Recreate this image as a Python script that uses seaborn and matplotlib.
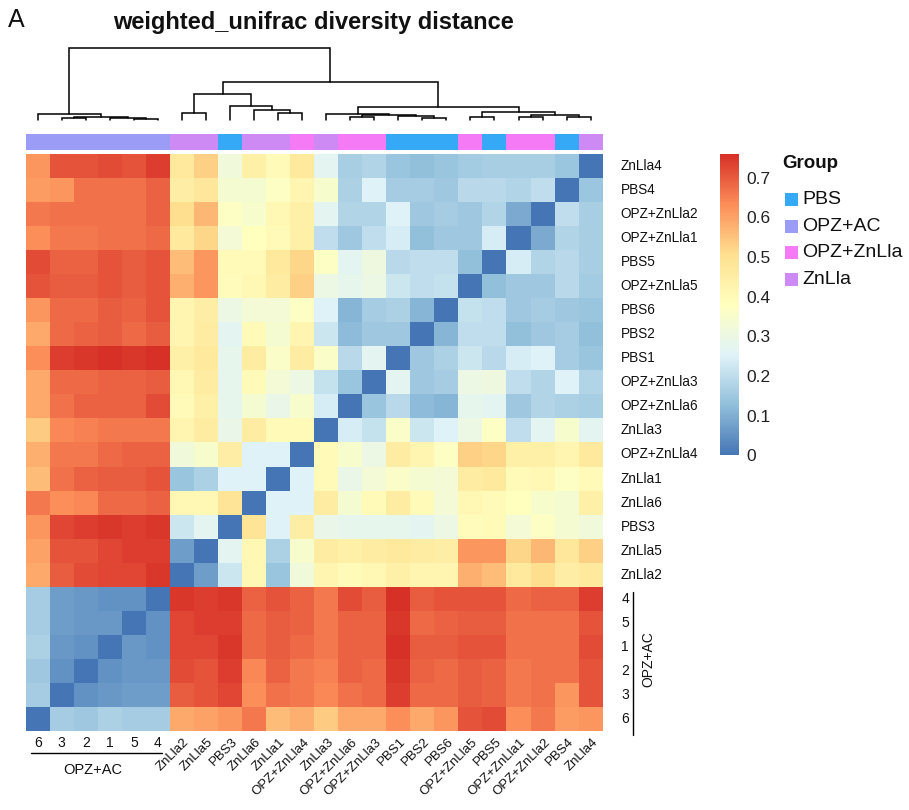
import numpy as np
import pandas as pd
import matplotlib
matplotlib.use("Agg")
import matplotlib.pyplot as plt
import seaborn as sns
from matplotlib.colors import LinearSegmentedColormap, ListedColormap
from matplotlib.patches import Rectangle
from matplotlib.lines import Line2D

sns.set_theme(style="white")
plt.rcParams["font.family"] = ["Liberation Sans", "DejaVu Sans"]

# ---------------- data ----------------
samples = ["6", "3", "2", "1", "5", "4", "ZnLla2", "ZnLla5", "PBS3", "ZnLla6", "ZnLla1",
           "OPZ+ZnLla4", "ZnLla3", "OPZ+ZnLla6", "OPZ+ZnLla3", "PBS1", "PBS2", "PBS6",
           "OPZ+ZnLla5", "PBS5", "OPZ+ZnLla1", "OPZ+ZnLla2", "PBS4", "ZnLla4"]
groups = ["OPZ+AC"] * 6 + ["ZnLla", "ZnLla", "PBS", "ZnLla", "ZnLla", "OPZ+ZnLla", "ZnLla",
                          "OPZ+ZnLla", "OPZ+ZnLla", "PBS", "PBS", "PBS", "OPZ+ZnLla", "PBS",
                          "OPZ+ZnLla", "OPZ+ZnLla", "PBS", "ZnLla"]
group_names = ["PBS", "OPZ+AC", "OPZ+ZnLla", "ZnLla"]
group_colors = ["#35A9F6", "#9B9CF6", "#F47BF5", "#CD8AF4"]

# lower triangle of the distance matrix: distances of sample k to samples 0..k-1
dist_1 = [0.16]
dist_2 = [0.15, 0.05]
dist_3 = [0.17, 0.06, 0.05]
dist_4 = [0.16, 0.07, 0.06, 0.06]
dist_5 = [0.16, 0.07, 0.06, 0.05, 0.05]
dist_6 = [0.59, 0.70, 0.72, 0.73, 0.73, 0.75]
dist_7 = [0.60, 0.71, 0.71, 0.73, 0.74, 0.74, 0.07]
dist_8 = [0.62, 0.73, 0.74, 0.75, 0.74, 0.75, 0.22, 0.27]
dist_9 = [0.66, 0.63, 0.64, 0.68, 0.68, 0.69, 0.41, 0.41, 0.49]
dist_10 = [0.56, 0.67, 0.69, 0.70, 0.70, 0.71, 0.14, 0.17, 0.25, 0.25]
dist_11 = [0.58, 0.66, 0.66, 0.68, 0.69, 0.69, 0.32, 0.35, 0.45, 0.25, 0.25]
dist_12 = [0.54, 0.64, 0.65, 0.66, 0.66, 0.66, 0.42, 0.46, 0.29, 0.46, 0.40, 0.40]
dist_13 = [0.59, 0.67, 0.69, 0.69, 0.69, 0.72, 0.40, 0.44, 0.28, 0.34, 0.29, 0.35, 0.24]
dist_14 = [0.59, 0.68, 0.68, 0.69, 0.69, 0.70, 0.41, 0.46, 0.28, 0.40, 0.33, 0.30, 0.21, 0.14]
dist_15 = [0.63, 0.74, 0.75, 0.76, 0.75, 0.76, 0.44, 0.47, 0.28, 0.46, 0.36, 0.46, 0.36, 0.19,
           0.27]
dist_16 = [0.59, 0.68, 0.69, 0.70, 0.68, 0.70, 0.42, 0.46, 0.27, 0.40, 0.34, 0.42, 0.22, 0.12,
           0.15, 0.15]
dist_17 = [0.62, 0.68, 0.68, 0.70, 0.69, 0.71, 0.42, 0.45, 0.30, 0.33, 0.33, 0.37, 0.25, 0.11,
           0.16, 0.17, 0.11]
dist_18 = [0.71, 0.70, 0.70, 0.71, 0.70, 0.71, 0.58, 0.62, 0.39, 0.41, 0.46, 0.53, 0.30, 0.28,
           0.30, 0.22, 0.20, 0.21]
dist_19 = [0.72, 0.69, 0.69, 0.71, 0.70, 0.71, 0.56, 0.62, 0.40, 0.40, 0.47, 0.52, 0.37, 0.27,
           0.31, 0.19, 0.20, 0.20, 0.13]
dist_20 = [0.63, 0.66, 0.66, 0.67, 0.67, 0.68, 0.47, 0.52, 0.33, 0.38, 0.40, 0.44, 0.20, 0.15,
           0.20, 0.24, 0.13, 0.15, 0.15, 0.24]
dist_21 = [0.66, 0.67, 0.67, 0.67, 0.67, 0.69, 0.51, 0.57, 0.37, 0.35, 0.41, 0.44, 0.27, 0.18,
           0.18, 0.25, 0.15, 0.16, 0.15, 0.18, 0.09]
dist_22 = [0.61, 0.62, 0.67, 0.67, 0.67, 0.69, 0.45, 0.48, 0.34, 0.34, 0.37, 0.42, 0.35, 0.17,
           0.25, 0.16, 0.16, 0.15, 0.19, 0.19, 0.18, 0.20]
dist_23 = [0.62, 0.71, 0.71, 0.72, 0.71, 0.74, 0.47, 0.53, 0.32, 0.44, 0.40, 0.47, 0.27, 0.165,
           0.18, 0.14, 0.13, 0.14, 0.155, 0.165, 0.165, 0.165, 0.145]

# column dendrogram: (left, right, height); ints refer to earlier merges
merges = [
    ("3", "2", 1.5),              # 0
    ("5", "4", 0.8),              # 1
    ("1", 1, 1.5),                # 2
    (0, 2, 2.5),                  # 3
    ("6", 3, 5.0),                # 4
    ("ZnLla2", "ZnLla5", 6.0),    # 5
    ("ZnLla1", "OPZ+ZnLla4", 6.0),  # 6
    ("ZnLla6", 6, 9.5),           # 7
    ("PBS3", 7, 13.5),            # 8
    (5, 8, 25.0),                 # 9
    ("OPZ+ZnLla6", "OPZ+ZnLla3", 2.0),  # 10
    ("PBS2", "PBS6", 1.5),        # 11
    ("PBS1", 11, 3.0),            # 12
    (10, 12, 4.3),                # 13
    ("ZnLla3", 13, 5.3),          # 14
    ("OPZ+ZnLla5", "PBS5", 2.5),  # 15
    ("OPZ+ZnLla1", "OPZ+ZnLla2", 2.0),  # 16
    ("PBS4", "ZnLla4", 2.5),      # 17
    (16, 17, 4.0),                # 18
    (15, 18, 7.3),                # 19
    (14, 19, 12.5),               # 20
    (9, 20, 37.0),                # 21
    (4, 21, 71.0),                # 22
]

cbar_ticks = [0, 0.1, 0.2, 0.3, 0.4, 0.5, 0.6, 0.7]

# ---------------- build matrix ----------------
n = len(samples)
lower = [[]] + [globals()[f"dist_{k}"] for k in range(1, n)]
D = np.zeros((n, n))
for k in range(1, n):
    for i, v in enumerate(lower[k]):
        D[k, i] = v
        D[i, k] = v
row_order = samples[::-1]
mat = pd.DataFrame(D[::-1, :], index=row_order, columns=samples)

cmap = LinearSegmentedColormap.from_list(
    "rdylbu_r", ["#4575B4", "#91BFDB", "#E0F3F8", "#FFFFBF", "#FEE090", "#FC8D59", "#D73027"])

W, H = 909, 810
fig = plt.figure(figsize=(W / 100, H / 100), dpi=100)


def box(x0, y0, x1, y1):
    return [x0 / W, 1 - y1 / H, (x1 - x0) / W, (y1 - y0) / H]


HX0, HY0, CELL = 25.7, 154.0, 24.04
HX1, HY1 = HX0 + CELL * n, HY0 + CELL * n

ax = fig.add_axes(box(HX0, HY0, HX1, HY1))
cax = fig.add_axes(box(720, 154, 739, 455.4))
sns.heatmap(mat, ax=ax, cmap=cmap, vmin=0, vmax=0.76, cbar_ax=cax,
            xticklabels=False, yticklabels=False, linewidths=0)
ax.set_xlabel("")
ax.set_ylabel("")

cbar = ax.collections[0].colorbar
cbar.outline.set_visible(False)
cbar.set_ticks(cbar_ticks)
cbar.set_ticklabels([("0" if t == 0 else f"{t:.1f}") for t in cbar_ticks])
cax.tick_params(axis="y", length=0, pad=5, labelsize=12.5, colors="#222222")

# annotation bar
aax = fig.add_axes(box(HX0, 133.5, HX1, 149.5))
codes = np.array([[group_names.index(g) for g in groups]])
sns.heatmap(codes, ax=aax, cmap=ListedColormap(group_colors), vmin=-0.5, vmax=3.5,
            cbar=False, xticklabels=False, yticklabels=False)

# dendrogram
dax = fig.add_axes(box(HX0, 48.3, HX1, 119.5))
dax.set_xlim(0, n)
dax.set_ylim(0, merges[-1][2])
dax.axis("off")


def draw(node):
    if isinstance(node, str):
        return samples.index(node) + 0.5, 0.0
    left, right, h = merges[node]
    xl, hl = draw(left)
    xr, hr = draw(right)
    dax.plot([xl, xl, xr, xr], [hl, h, h, hr], color="black", lw=1.1,
             solid_joinstyle="miter", clip_on=False)
    return (xl + xr) / 2, h


draw(len(merges) - 1)

# labels
lab_kw = dict(color="#111111", clip_on=False)
ac_idx = [i for i, g in enumerate(groups) if g == "OPZ+AC"]
ac_n = len(ac_idx)

# right row labels
for r, name in enumerate(row_order):
    y = r + 0.5
    if r >= n - ac_n:
        ax.text(24.0 + (621.5 - HX1) / CELL, y, name, ha="left", va="center",
                fontsize=10, **lab_kw)
    else:
        ax.text(24.0 + (620.5 - HX1) / CELL, y, name, ha="left", va="center",
                fontsize=9.8, **lab_kw)
xl_line = 24.0 + (633.3 - HX1) / CELL
ax.add_line(Line2D([xl_line, xl_line], [n - ac_n + (591.5 - 586.7) / CELL, n + 4 / CELL],
                   color="black", lw=1.0, clip_on=False))
ax.text(24.0 + (648 - HX1) / CELL, n - ac_n / 2, "OPZ+AC", rotation=90,
        ha="center", va="center", fontsize=10, **lab_kw)

# bottom column labels
for j, name in enumerate(samples):
    if j < ac_n:
        ax.text(j + 0.5, n + (743 - HY1) / CELL, name, ha="center", va="center",
                fontsize=10, **lab_kw)
    else:
        ax.text(j + 0.5 + 0.05, n + (736 - HY1) / CELL, name, rotation=45,
                rotation_mode="anchor", ha="right", va="top", fontsize=9.5, **lab_kw)
ax.add_line(Line2D([(30.7 - HX0) / CELL, (162 - HX0) / CELL],
                   [n + (753 - HY1) / CELL] * 2, color="black", lw=1.0, clip_on=False))
ax.text((93 - HX0) / CELL, n + (770.5 - HY1) / CELL, "OPZ+AC", ha="center",
        va="center", fontsize=10.5, **lab_kw)

# legend
fig.text(782 / W, 1 - 163 / H, "Group", fontsize=13.5, fontweight="bold",
         ha="left", va="center", color="#111111")
for k, (gname, gcol) in enumerate(zip(group_names, group_colors)):
    yc = 199.5 + 26.7 * k
    fig.patches.append(Rectangle((785 / W, 1 - (yc + 6.5) / H), 13 / W, 13 / H,
                                 transform=fig.transFigure, facecolor=gcol,
                                 edgecolor="none"))
    fig.text(802 / W, 1 - yc / H, gname, fontsize=14, ha="left", va="center",
             color="#111111")

# titles
fig.text(313.5 / W, 1 - 22 / H, "weighted_unifrac diversity distance", fontsize=17,
         fontweight="bold", ha="center", va="center", color="#111111")
fig.text(8 / W, 1 - 20 / H, "A", fontsize=18, ha="left", va="center", color="#111111")

fig.savefig("out.png", dpi=100, facecolor="white")
